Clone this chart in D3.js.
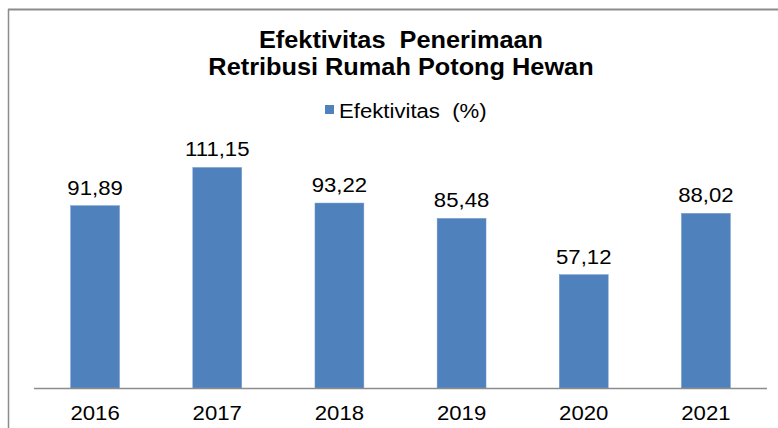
<!DOCTYPE html>
<html>
<head>
<meta charset="utf-8">
<script src="https://cdn.jsdelivr.net/npm/d3@7"></script>
<style>
  body { margin: 0; background: #fff; }
  text { font-family: "Liberation Sans", Arial, sans-serif; fill: #000; white-space: pre; }
</style>
</head>
<body>
<div id="chart"></div>
<script>
var years = ["2016", "2017", "2018", "2019", "2020", "2021"];
var efektivitas = [91.89, 111.15, 93.22, 85.48, 57.12, 88.02];
var titleLines = ["Efektivitas  Penerimaan", "Retribusi Rumah Potong Hewan"];
var legendLabel = "Efektivitas  (%)";

var w = 778, h = 428;
var plotLeft = 34, plotRight = 767, baseY = 388;
var stretch = 1.055; // the source text looks slightly widened

var svg = d3.select("#chart").append("svg")
    .attr("width", w)
    .attr("height", h);

// frame (only top and left edges visible in the crop)
svg.append("line")
    .attr("x1", 8).attr("x2", w).attr("y1", 9.5).attr("y2", 9.5)
    .style("stroke", "#8c8c8c").style("stroke-width", 2);
svg.append("line")
    .attr("x1", 8.5).attr("x2", 8.5).attr("y1", 9).attr("y2", h)
    .style("stroke", "#8c8c8c").style("stroke-width", 1.5);

var xScale = d3.scaleBand()
    .domain(years)
    .range([plotLeft, plotRight])
    .paddingInner(0.6)
    .paddingOuter(0.3);
var yScale = d3.scaleLinear().domain([0, 100]).range([baseY, baseY - 198.4]);

function place(x, y) {
  return "translate(" + x + "," + y + ") scale(" + stretch + ",1)";
}

// title
svg.append("g").selectAll("text")
    .data(titleLines)
    .enter().append("text")
    .attr("transform", function(d, i) { return place(401, 48 + i * 27); })
    .attr("text-anchor", "middle")
    .style("font-size", "24px")
    .style("font-weight", "bold")
    .text(function(d) { return d; });

// legend
var legend = svg.append("g");
legend.append("rect")
    .attr("x", 325).attr("y", 105).attr("width", 9).attr("height", 9)
    .style("fill", "#4f81bd");
legend.append("text")
    .attr("transform", place(339, 118))
    .style("font-size", "21px")
    .text(legendLabel);

// bars
svg.append("g").selectAll("rect")
    .data(efektivitas)
    .enter().append("rect")
    .attr("x", function(d, i) { return xScale(years[i]); })
    .attr("y", function(d) { return yScale(d); })
    .attr("width", xScale.bandwidth())
    .attr("height", function(d) { return baseY - yScale(d); })
    .style("fill", "#4f81bd")
    .style("stroke", "#6f97c9")
    .style("stroke-width", 0.5);

// value labels
svg.append("g").selectAll("text")
    .data(efektivitas)
    .enter().append("text")
    .attr("transform", function(d, i) {
      return place(xScale(years[i]) + xScale.bandwidth() / 2, yScale(d) - 11);
    })
    .attr("text-anchor", "middle")
    .style("font-size", "21px")
    .text(function(d) { return d.toFixed(2).replace(".", ","); });

// x axis
var xAxis = d3.axisBottom(xScale).tickSize(0).tickPadding(0);
var axisG = svg.append("g")
    .attr("transform", "translate(0," + baseY + ")")
    .call(xAxis);
axisG.select(".domain").attr("d", "M" + plotLeft + ",0.5H" + plotRight)
    .style("stroke", "#8c8c8c").style("stroke-width", 1.5);
axisG.selectAll(".tick text")
    .attr("y", null).attr("dy", null)
    .attr("transform", "translate(0,32) scale(" + stretch + ",1)")
    .style("font-size", "21px")
    .style("font-family", "Liberation Sans, Arial, sans-serif")
    .attr("fill", "#000");
</script>
</body>
</html>
